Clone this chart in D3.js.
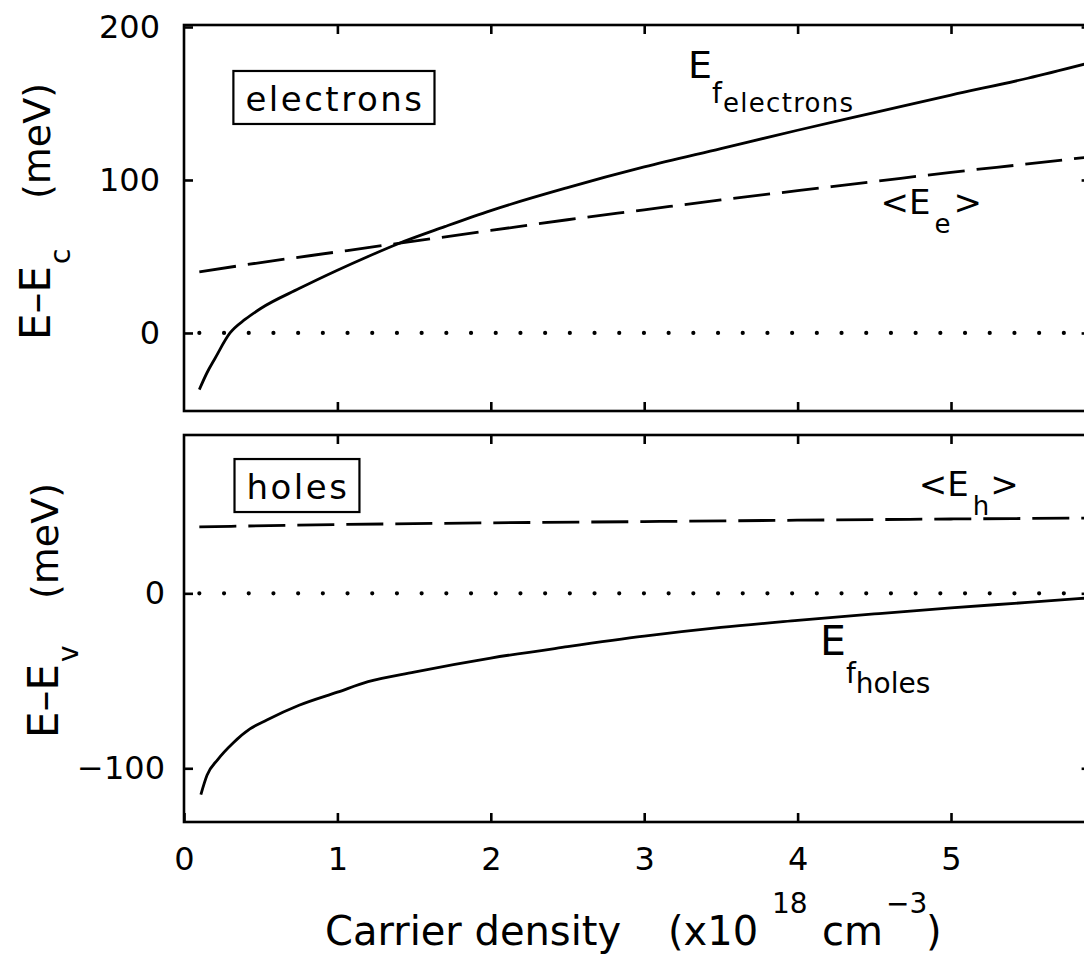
<!DOCTYPE html>
<html>
<head>
<meta charset="utf-8">
<script src="https://cdn.jsdelivr.net/npm/d3@7"></script>
<style>
  html, body { margin: 0; padding: 0; background: #fff; }
  svg { display: block; font-family: "DejaVu Sans", sans-serif; }
</style>
</head>
<body>
<svg id="chart" width="1084" height="955"></svg>
<script>
// Carrier density in units of 1e18 cm^-3, energies in meV.

// Electron Fermi level E_f relative to the conduction band edge
const efElecX = [0.1, 0.15, 0.2, 0.3, 0.4, 0.5, 0.75, 1, 1.2, 1.4, 1.7, 2, 2.5, 3, 3.5, 4, 4.5, 5, 5.5, 5.9];
const efElecY = [-37, -26, -17, 0, 9, 16, 29, 41, 50, 58.5, 69.5, 80, 95, 108.5, 120.5, 132.5, 144, 155.5, 166.5, 176.5];

// Mean electron energy <E_e>
const avgEeX = [0.1, 0.5, 1, 1.5, 2, 2.5, 3, 3.5, 4, 4.5, 5, 5.5, 5.9];
const avgEeY = [40, 46, 53, 60, 67, 74, 80.5, 87, 93, 99, 105, 110.5, 115];

// Mean hole energy <E_h> relative to the valence band edge
const avgEhX = [0.1, 1, 2, 3, 4, 5, 5.9];
const avgEhY = [38, 39.3, 40.3, 41, 41.8, 42.5, 43];

// Hole Fermi level E_f relative to the valence band edge
const efHoleX = [0.11, 0.15, 0.22, 0.32, 0.43, 0.54, 0.75, 1, 1.2, 1.5, 2, 2.5, 3, 3.5, 4, 4.5, 5, 5.5, 5.9];
const efHoleY = [-115, -104, -95, -85.5, -77.5, -72.4, -64, -56.5, -50.5, -45, -37, -30.5, -24.5, -19.5, -15.5, -11.8, -8.3, -5.2, -2.6];

// Axis ticks
const xTickValues = [0, 1, 2, 3, 4, 5];
const topYTickValues = [0, 100, 200];
const botYTickValues = [-100, 0];

const zip = (xs, ys) => xs.map((v, i) => [v, ys[i]]);

const svg = d3.select("#chart");
const x = d3.scaleLinear().domain([0, 5.91]).range([184, 1090.6]);

const yTop = d3.scaleLinear().domain([-51, 201.3]).range([411, 25]);
const yBot = d3.scaleLinear().domain([-130.7, 90.5]).range([822, 435]);

const FRAME_W = 2.6;
const TICK = 9;
const fmt = d3.format("d");

function drawFrame(y, yTicks, showXLabels, labelPad) {
  const g = svg.append("g");
  const [x0, x1] = x.range();
  const [yb, yt] = y.range();

  // inward ticks on all four sides
  const left = d3.axisLeft(y).tickValues(yTicks).tickSize(-TICK).tickSizeOuter(0)
    .tickPadding(labelPad).tickFormat(fmt);
  const right = d3.axisRight(y).tickValues(yTicks).tickSize(-TICK).tickSizeOuter(0).tickFormat("");
  const top = d3.axisTop(x).tickValues(xTickValues.slice(1)).tickSize(-TICK).tickSizeOuter(0).tickFormat("");
  const bottom = d3.axisBottom(x).tickValues(showXLabels ? xTickValues : xTickValues.slice(1))
    .tickSize(-TICK).tickSizeOuter(0).tickPadding(25).tickFormat(showXLabels ? fmt : "");

  const axes = [
    g.append("g").attr("transform", `translate(${x0},0)`).call(left),
    g.append("g").attr("transform", `translate(${x1},0)`).call(right),
    g.append("g").attr("transform", `translate(0,${yt})`).call(top),
    g.append("g").attr("transform", `translate(0,${yb})`).call(bottom)
  ];
  axes.forEach(a => {
    a.select(".domain").remove();
    a.selectAll(".tick line").attr("stroke", "#000").attr("stroke-width", FRAME_W);
    a.selectAll(".tick text").attr("fill", "#000").style("font-size", "32px")
      .style("font-family", '"DejaVu Sans", sans-serif');
  });

  g.append("rect")
    .attr("x", x0).attr("y", yt)
    .attr("width", x1 - x0).attr("height", yb - yt)
    .attr("fill", "none").attr("stroke", "#000").attr("stroke-width", FRAME_W);

  // zero reference line, dotted
  g.append("line")
    .attr("x1", x(0.1)).attr("x2", x1)
    .attr("y1", y(0)).attr("y2", y(0))
    .attr("stroke", "#000").attr("stroke-width", 4.2)
    .attr("stroke-linecap", "round").attr("stroke-dasharray", "0 24.7");
  return g;
}

function drawCurve(y, pts, dashed) {
  const line = d3.line().x(d => x(d[0])).y(d => y(d[1])).curve(d3.curveMonotoneX);
  svg.append("path")
    .datum(pts)
    .attr("d", line)
    .attr("fill", "none")
    .attr("stroke", "#000")
    .attr("stroke-width", 2.8)
    .attr("stroke-dasharray", dashed ? "37 12" : null);
}

// Panel frames
drawFrame(yTop, topYTickValues, false, 24);
drawFrame(yBot, botYTickValues, true, 19);

// Curves
drawCurve(yTop, zip(efElecX, efElecY), false);
drawCurve(yTop, zip(avgEeX, avgEeY), true);
drawCurve(yBot, zip(avgEhX, avgEhY), true);
drawCurve(yBot, zip(efHoleX, efHoleY), false);

// Multi-part label: parts = [text, fontSize, dx, dy, letterSpacing]
function label(px, py, parts) {
  const t = svg.append("text").attr("x", px).attr("y", py).attr("fill", "#000");
  parts.forEach(([s, fs, dx, dy, ls]) => {
    t.append("tspan").text(s).style("font-size", fs + "px")
      .attr("dx", dx || 0).attr("dy", dy || 0)
      .style("letter-spacing", ls ? ls + "px" : null);
  });
  return t;
}

// Boxed species labels
function boxed(xv, yv, y, str) {
  const t = svg.append("text")
    .attr("x", x(xv)).attr("y", y(yv))
    .attr("text-anchor", "middle")
    .style("font-size", "34px").style("letter-spacing", "2.5px")
    .attr("fill", "#000").text(str);
  const b = t.node().getBBox();
  svg.append("rect")
    .attr("x", b.x - 12).attr("y", y(yv) - 40)
    .attr("width", b.width + 22).attr("height", 53)
    .attr("fill", "none").attr("stroke", "#000").attr("stroke-width", 2.2);
}
boxed(0.984, 145.1, yTop, "electrons");
boxed(0.743, 53.9, yBot, "holes");

// Curve labels
label(x(3.286), yTop(166.7), [["E", 38], ["f", 28, 0, 25], ["electrons", 26, 1, 9, 1.3]]);
label(x(4.54), yTop(77.8), [["<", 34], ["E", 34], ["e", 26, 4, 19], [">", 34, 3, -19]]);
label(x(4.79), yBot(55.6), [["<", 34], ["E", 34], ["h", 26, 4, 19], [">", 34, 1, -19]]);
label(x(4.146), yBot(-35.2), [["E", 41], ["f", 28, 0, 28], ["holes", 28, 0, 10]]);

// Y axis titles
function yTitle(bx, by, sub, topY) {
  const t = svg.append("text").attr("transform", `translate(${bx},${by}) rotate(-90)`).attr("fill", "#000");
  t.append("tspan").text("E–E").style("font-size", "42px");
  t.append("tspan").text(sub).style("font-size", "28px").attr("dx", 2).attr("dy", 20);
  svg.append("text").attr("transform", `translate(${bx},${topY}) rotate(-90)`)
    .attr("text-anchor", "end").style("font-size", "38px").attr("fill", "#000").text("(meV)");
}
yTitle(50, 340, "c", 83);
yTitle(58, 738, "v", 483);

// X axis title
const xt = svg.append("text").attr("y", 945).attr("fill", "#000");
xt.append("tspan").attr("x", 325).style("font-size", "40px").text("Carrier density");
xt.append("tspan").attr("x", 668).style("font-size", "40px").text("(x10");
xt.append("tspan").attr("x", 772).attr("dy", -32).style("font-size", "28px").text("18");
xt.append("tspan").attr("x", 822).attr("dy", 32).style("font-size", "40px").text("cm");
xt.append("tspan").attr("x", 886).attr("dy", -32).style("font-size", "28px").text("−3");
xt.append("tspan").attr("x", 926).attr("dy", 32).style("font-size", "40px").text(")");
</script>
</body>
</html>
